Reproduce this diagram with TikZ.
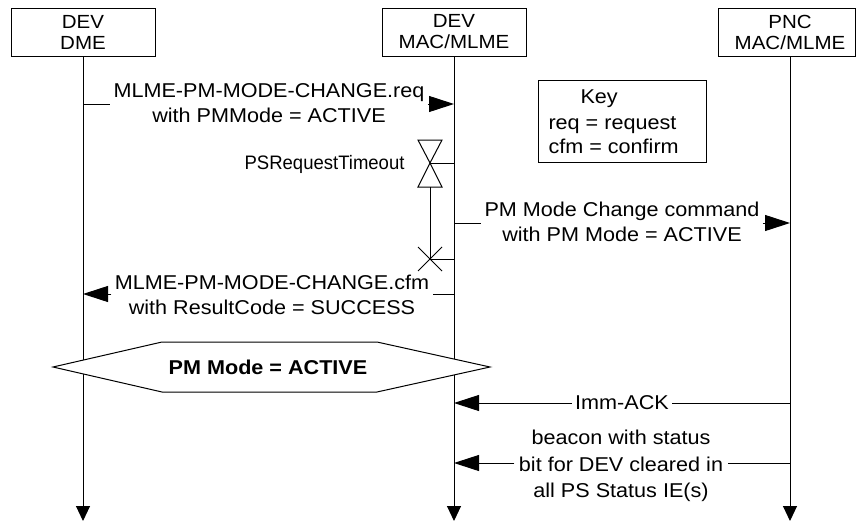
\documentclass[tikz,border=0pt]{standalone}
\usepackage{fontspec}
\setmainfont{Liberation Sans}[FakeStretch=1.08]
\newfontfamily\narrowfont{Liberation Sans}[FakeStretch=0.95]
\usetikzlibrary{arrows.meta}
\begin{document}
\begin{tikzpicture}[x=1pt,y=-1pt, line width=1pt,
  every node/.style={font=\fontsize{20}{25}\selectfont},
  hdr/.style={draw, minimum width=144pt, minimum height=48pt, align=center, inner sep=0pt, font=\fontsize{19}{21}\selectfont},
  msg/.style={align=center, inner xsep=3pt, inner ysep=0pt, anchor=north},
  arr/.style={-{Triangle[length=25pt,width=16pt]}},
  life/.style={-{Triangle[length=15pt,width=14pt]}},
  keytext/.style={anchor=base west, inner sep=0pt}
]
\useasboundingbox (0,0) rectangle (856,522);
% headers
\node[hdr] (dme) at (83,32) {DEV\\DME};
\node[hdr] (mac) at (454,32) {DEV\\MAC/MLME};
\node[hdr, draw=none] (pnc) at (790,32) {PNC\\MAC/MLME};
\draw (718,8) rectangle (855.5,56);
% lifelines
\coordinate (dmeE) at (83,521);
\coordinate (macE) at (454,521);
\coordinate (pncE) at (790,521);
\draw[life] (dme.south) -- (dmeE);
\draw[life] (mac.south) -- (macE);
\draw[life] (pnc.south) -- (pncE);
% message 1
\node[msg] (m1) at (269,83) {MLME-PM-MODE-CHANGE.req\\with PMMode = ACTIVE};
\coordinate (m1a) at (83,104);
\coordinate (m1b) at (454,104);
\draw (m1a) -- (m1.west |- m1a);
\draw[arr] (m1.east |- m1b) -- (m1b);
% key
\node[draw, minimum width=168pt, minimum height=82pt, inner sep=0pt] (key) at (622,121) {};
\node[keytext] (k1) at (580,103) {Key};
\node[keytext] (k2) at (548,129) {req = request};
\node[keytext] (k3) at (548,153) {cfm = confirm};
% timer
\node[anchor=base east, inner sep=0pt, font=\narrowfont\fontsize{19.5}{21}\selectfont] (tmr) at (405,169) {PSRequestTimeout};
\coordinate (tA) at (430,163);
\coordinate (tL) at (454,163);
\coordinate (tB) at (430,187);
\coordinate (tX) at (430,259);
\coordinate (tR) at (454,259);
\draw (418,140) -- (442,140) -- (tA) -- cycle;
\draw (tA) -- (418,187) -- (442,187) -- cycle;
\draw (tA) -- (tL);
\draw (tB) -- (tX);
\draw (418,247) -- (442,271) (418,271) -- (442,247);
\draw (tX) -- (tR);
% message 3
\node[msg] (m3) at (622,202) {PM Mode Change command\\with PM Mode = ACTIVE};
\coordinate (m3a) at (454,223);
\coordinate (m3b) at (790,223);
\draw (m3a) -- (m3.west |- m3a);
\draw[arr] (m3.east |- m3b) -- (m3b);
% message 4
\node[msg] (m4) at (272,275) {MLME-PM-MODE-CHANGE.cfm\\with ResultCode = SUCCESS};
\coordinate (m4a) at (454,294);
\coordinate (m4b) at (83,294);
\draw (m4a) -- (m4.east |- m4a);
\draw[arr] (m4.west |- m4b) -- (m4b);
% state hexagon
\draw[fill=white] (53,367) -- (162,342) -- (377,342) -- (490,367) -- (377,392) -- (162,392) -- cycle;
\node[inner sep=0pt, font=\fontsize{20}{25}\selectfont\bfseries] (pm) at (268,367) {PM Mode = ACTIVE};
% Imm-ACK
\node[inner xsep=3pt, inner ysep=0pt] (ack) at (622,403) {Imm-ACK};
\coordinate (ackA) at (790,403);
\coordinate (ackB) at (454,403);
\draw (ackA) -- (ack.east |- ackA);
\draw[arr] (ack.west |- ackB) -- (ackB);
% beacon
\node[msg, font=\fontsize{20}{26.5}\selectfont, inner xsep=4pt] (bcn) at (621,430) {beacon with status\\bit for DEV cleared in\\all PS Status IE(s)};
\coordinate (bA) at (790,463);
\coordinate (bB) at (454,463);
\draw (bA) -- (bcn.east |- bA);
\draw[arr] (bcn.west |- bB) -- (bB);
\end{tikzpicture}
\end{document}
